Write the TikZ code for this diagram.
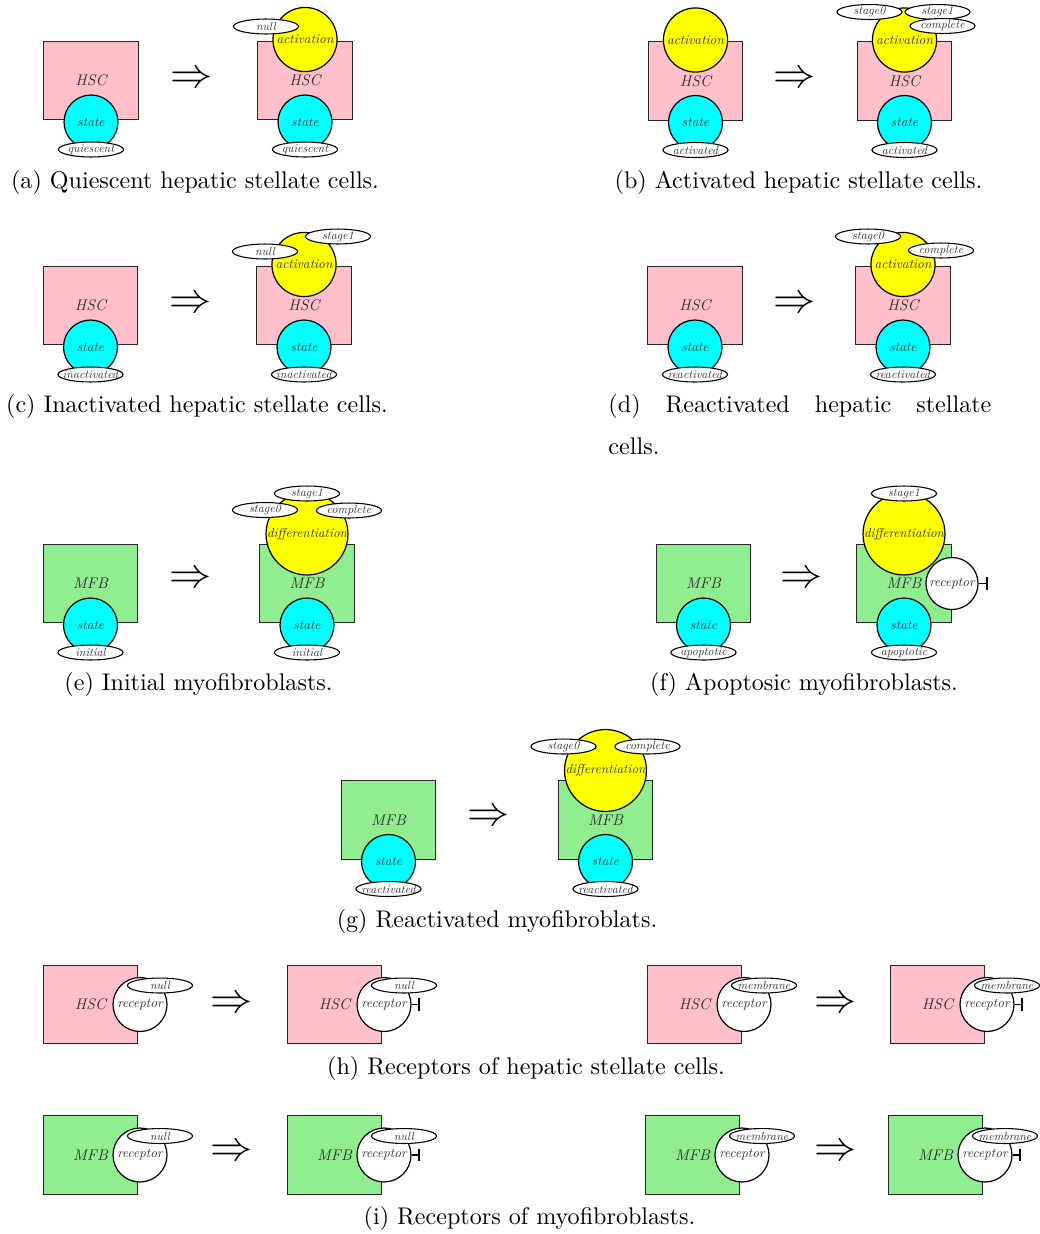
\documentclass[tikz,border=0pt]{standalone}
\usepackage{fontspec}
\usepackage{tikz}
\usetikzlibrary{arrows.meta}
\usetikzlibrary{positioning}
\usetikzlibrary{shapes.geometric}
\newfontface\cellfont{lmroman10-italic.otf}
\definecolor{hscpink}{RGB}{255,192,203}
\definecolor{mfbgreen}{RGB}{144,238,144}
\definecolor{statecyan}{RGB}{0,255,255}
\definecolor{stageyellow}{RGB}{255,255,0}
\colorlet{labelgray}{black!80}
\newcommand{\yieldsign}{\scalebox{1.75}{$\Rightarrow$}}

\begin{document}
\begin{tikzpicture}[x=0.415pt, y=-0.415pt,
    cell/.style={draw=black!85, line width=0.4pt, minimum width=39.4pt, minimum height=32.4pt,
        inner sep=0pt, text=labelgray, font=\cellfont\fontsize{6.4}{7}\selectfont},
    hsc/.style={cell, fill=hscpink},
    mfb/.style={cell, fill=mfbgreen},
    ball/.style={circle, draw=black, line width=0.5pt, inner sep=0pt, text=labelgray,
        font=\cellfont\fontsize{5.5}{6}\selectfont},
    statecirc/.style={ball, fill=statecyan, minimum size=22.4pt},
    actcirc/.style={ball, fill=stageyellow, minimum size=26.6pt},
    diffcirc/.style={ball, fill=stageyellow, minimum size=34pt, font=\cellfont\fontsize{5.4}{6}\selectfont},
    recepcirc/.style={ball, fill=white, minimum size=22.4pt},
    attr/.style={ellipse, draw=black, line width=0.45pt, fill=white, minimum width=27pt,
        minimum height=6.2pt, inner sep=0pt,
        label={[text=labelgray, font=\cellfont\fontsize{4.9}{5}\selectfont]center:#1}},
    yields/.style={inner sep=0pt},
    caption/.style={inner sep=0pt},
    block/.style={-{Bar[width=5pt]}, line width=0.45pt}]
\useasboundingbox (0,0) rectangle (1039,1234);

% (a) quiescent HSC
\begin{scope}[shift={(91,80.5)}]
    \node[hsc] (aL) at (0,0) {HSC};
    \node[statecirc] (aLst) at (0,41.5) {state};
    \node[attr=quiescent] (aLq) at (0,69) {};
    \node[yields] (aTo) at (101,-0.5) {\yieldsign};
    \node[hsc] (aR) at (214,0) {HSC};
    \node[actcirc] (aRact) at (214,-41) {activation};
    \node[attr=null] (aRn) at (175,-54) {};
    \node[statecirc] (aRst) at (214,41.5) {state};
    \node[attr=quiescent] (aRq) at (214,69) {};
\end{scope}
\node[caption] (capA) at (195,182.5) {(a) Quiescent hepatic stellate cells.};

% (b) activated HSC
\begin{scope}[shift={(695.5,81)}]
    \node[hsc] (bL) at (0,0) {HSC};
    \node[actcirc] (bLact) at (0,-41) {activation};
    \node[statecirc] (bLst) at (0,41.5) {state};
    \node[attr=activated] (bLq) at (0,69) {};
    \node[yields] (bTo) at (99.5,-1) {\yieldsign};
    \node[hsc] (bR) at (209,0) {HSC};
    \node[actcirc] (bRact) at (209,-41) {activation};
    \node[attr=stage0] (bRs0) at (174,-69) {};
    \node[attr=stage1] (bRs1) at (242,-69) {};
    \node[attr=complete] (bRc) at (247,-55) {};
    \node[statecirc] (bRst) at (209,41.5) {state};
    \node[attr=activated] (bRq) at (209,69) {};
\end{scope}
\node[caption] (capB) at (798.5,182.5) {(b) Activated hepatic stellate cells.};

% (c) inactivated HSC
\begin{scope}[shift={(90.5,305.5)}]
    \node[hsc] (cL) at (0,0) {HSC};
    \node[statecirc] (cLst) at (0,41.5) {state};
    \node[attr=inactivated] (cLq) at (0,69) {};
    \node[yields] (cTo) at (100.5,-0.5) {\yieldsign};
    \node[hsc] (cR) at (213.5,0) {HSC};
    \node[actcirc] (cRact) at (213.5,-41) {activation};
    \node[attr=null] (cRn) at (174.5,-54) {};
    \node[attr=stage1] (cRs1) at (247.5,-69) {};
    \node[statecirc] (cRst) at (213.5,41.5) {state};
    \node[attr=inactivated] (cRq) at (213.5,69) {};
\end{scope}
\node[caption] (capC) at (197,406.5) {(c) Inactivated hepatic stellate cells.};

% (d) reactivated HSC
\begin{scope}[shift={(695,305.5)}]
    \node[hsc] (dL) at (0,0) {HSC};
    \node[statecirc] (dLst) at (0,41.5) {state};
    \node[attr=reactivated] (dLq) at (0,69) {};
    \node[yields] (dTo) at (100,-0.5) {\yieldsign};
    \node[hsc] (dR) at (208,0) {HSC};
    \node[actcirc] (dRact) at (208,-41) {activation};
    \node[attr=stage0] (dRs0) at (173,-69) {};
    \node[attr=complete] (dRc) at (246,-55) {};
    \node[statecirc] (dRst) at (208,41.5) {state};
    \node[attr=reactivated] (dRq) at (208,69) {};
\end{scope}
\node[caption, anchor=west] (capD) at (608,406.5) {\makebox[158.9pt][s]{(d) Reactivated hepatic stellate}};
\node[caption, anchor=west] (capD2) at (608,446) {cells.};

% (e) initial MFB
\begin{scope}[shift={(90.5,583.5)}]
    \node[mfb] (eL) at (0,0) {MFB};
    \node[statecirc] (eLst) at (0,41.5) {state};
    \node[attr=initial] (eLq) at (0,69) {};
    \node[yields] (eTo) at (100.5,-3.5) {\yieldsign};
    \node[mfb] (eR) at (216.5,0) {MFB};
    \node[diffcirc] (eRdif) at (216.5,-49.5) {differentiation};
    \node[attr=stage1] (eRs1) at (216.5,-90) {};
    \node[attr=stage0] (eRs0) at (174.5,-73.5) {};
    \node[attr=complete] (eRc) at (258.5,-73) {};
    \node[statecirc] (eRst) at (216.5,41.5) {state};
    \node[attr=initial] (eRq) at (216.5,69) {};
\end{scope}
\node[caption] (capE) at (198.5,684.5) {(e) Initial myofibroblasts.};

% (f) apoptotic MFB
\begin{scope}[shift={(703.5,583.5)}]
    \node[mfb] (fL) at (0,0) {MFB};
    \node[statecirc] (fLst) at (0,41.5) {state};
    \node[attr=apoptotic] (fLq) at (0,69) {};
    \node[yields] (fTo) at (98.5,-3.5) {\yieldsign};
    \node[mfb] (fR) at (200.5,0) {MFB};
    \node[diffcirc] (fRdif) at (200.5,-49.5) {differentiation};
    \node[attr=stage1] (fRs1) at (200.5,-90) {};
    \node[recepcirc, minimum size=21.6pt] (fRrec) at (248.5,0) {receptor};
    \coordinate[right=3.7pt of fRrec] (fRend);
    \draw[block] (fRrec) -- (fRend);
    \node[statecirc] (fRst) at (200.5,41.5) {state};
    \node[attr=apoptotic] (fRq) at (200.5,69) {};
\end{scope}
\node[caption] (capF) at (804,684.5) {(f) Apoptosic myofibroblasts.};

% (g) reactivated MFB
\begin{scope}[shift={(388.5,820)}]
    \node[mfb] (gL) at (0,0) {MFB};
    \node[statecirc] (gLst) at (0,41.5) {state};
    \node[attr=reactivated] (gLq) at (0,69) {};
    \node[yields] (gTo) at (100.5,-2) {\yieldsign};
    \node[mfb] (gR) at (217,0) {MFB};
    \node[diffcirc] (gRdif) at (217,-49.5) {differentiation};
    \node[attr=stage0] (gRs0) at (175,-73.5) {};
    \node[attr=complete] (gRc) at (259,-73.5) {};
    \node[statecirc] (gRst) at (217,41.5) {state};
    \node[attr=reactivated] (gRq) at (217,69) {};
\end{scope}
\node[caption] (capG) at (497,921.5) {(g) Reactivated myofibroblats.};

% (h) HSC receptors
\begin{scope}[shift={(90.5,1004.5)}]
    \node[hsc] (hpL) at (0,0) {HSC};
    \node[recepcirc] (hpLrec) at (49.5,0) {receptor};
    \node[attr=null] (hpLn) at (69.5,-19) {};
    \node[yields] (hpTo) at (141.5,0) {\yieldsign};
    \node[hsc] (hpR) at (244,0) {HSC};
    \node[recepcirc] (hpRrec) at (293.5,0) {receptor};
    \node[attr=null] (hpRn) at (313.5,-19) {};
    \coordinate[right=3.3pt of hpRrec] (hpRend);
    \draw[block] (hpRrec) -- (hpRend);
\end{scope}
\begin{scope}[shift={(694.5,1004.5)}]
    \node[hsc] (hmL) at (0,0) {HSC};
    \node[recepcirc] (hmLrec) at (49.5,0) {receptor};
    \node[attr=membrane] (hmLn) at (69.5,-19) {};
    \node[yields] (hmTo) at (141.5,0) {\yieldsign};
    \node[hsc] (hmR) at (243,0) {HSC};
    \node[recepcirc] (hmRrec) at (292.5,0) {receptor};
    \node[attr=membrane] (hmRn) at (312.5,-19) {};
    \coordinate[right=3.3pt of hmRrec] (hmRend);
    \draw[block] (hmRrec) -- (hmRend);
\end{scope}
\node[caption] (capH) at (526,1068.5) {(h) Receptors of hepatic stellate cells.};

% (i) MFB receptors
\begin{scope}[shift={(90.5,1155)}]
    \node[mfb] (ipL) at (0,0) {MFB};
    \node[recepcirc] (ipLrec) at (49.5,0) {receptor};
    \node[attr=null] (ipLn) at (69.5,-19) {};
    \node[yields] (ipTo) at (141.5,-2) {\yieldsign};
    \node[mfb] (ipR) at (244,0) {MFB};
    \node[recepcirc] (ipRrec) at (293.5,0) {receptor};
    \node[attr=null] (ipRn) at (313.5,-19) {};
    \coordinate[right=3.3pt of ipRrec] (ipRend);
    \draw[block] (ipRrec) -- (ipRend);
\end{scope}
\begin{scope}[shift={(692.5,1155)}]
    \node[mfb] (imL) at (0,0) {MFB};
    \node[recepcirc] (imLrec) at (49.5,0) {receptor};
    \node[attr=membrane] (imLn) at (69.5,-19) {};
    \node[yields] (imTo) at (143.5,-2) {\yieldsign};
    \node[mfb] (imR) at (243,0) {MFB};
    \node[recepcirc] (imRrec) at (292.5,0) {receptor};
    \node[attr=membrane] (imRn) at (312.5,-19) {};
    \coordinate[right=3.3pt of imRrec] (imRend);
    \draw[block] (imRrec) -- (imRend);
\end{scope}
\node[caption] (capI) at (529.5,1218.5) {(i) Receptors of myofibroblasts.};
\end{tikzpicture}
\end{document}
